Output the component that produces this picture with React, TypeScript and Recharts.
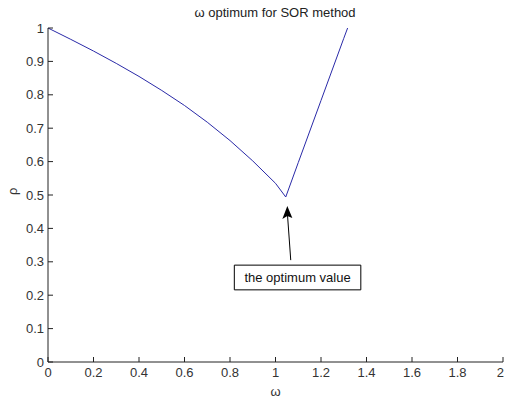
import React from 'react';
import { ComposedChart, Line, XAxis, YAxis, ReferenceArea, ReferenceLine, ReferenceDot } from 'recharts';

const omega = [0, 0.1, 0.2, 0.3, 0.4, 0.5, 0.6, 0.7, 0.8, 0.9, 1.0, 1.045, 1.1, 1.2, 1.3, 1.317];
const rho = [1.0, 0.966, 0.931, 0.894, 0.855, 0.813, 0.768, 0.718, 0.663, 0.602, 0.535, 0.494, 0.597, 0.783, 0.969, 1.0];
const xTicks = [0, 0.2, 0.4, 0.6, 0.8, 1, 1.2, 1.4, 1.6, 1.8, 2];
const yTicks = [0, 0.1, 0.2, 0.3, 0.4, 0.5, 0.6, 0.7, 0.8, 0.9, 1];
const annotationText = 'the optimum value';
const arrowTip = { x: 1.052, y: 0.467 };
const arrowTail = { x: 1.067, y: 0.305 };
const boxX = [0.819, 1.375];
const boxY = [0.216, 0.29];

const data = omega.map((w, i) => ({ w, rho: rho[i] }));

const FONT = '"Liberation Sans", Arial, sans-serif';
const AXIS = '#222';
const TXT = '#333';
const fmt = (v: number) => String(Number(v.toFixed(2)));

const BottomTick = (p: any) => {
  const last = p.payload.value === xTicks[xTicks.length - 1];
  return (
    <g>
      <line x1={p.x} y1={p.y} x2={p.x} y2={p.y - 5} stroke={AXIS} />
      <text
        x={last ? 504 : p.x} y={p.y + 15} textAnchor={last ? 'end' : 'middle'}
        fontSize={13} fill={TXT} fontFamily={FONT}
      >
        {fmt(p.payload.value)}
      </text>
    </g>
  );
};
const TopTick = (p: any) => <line x1={p.x} y1={p.y} x2={p.x} y2={p.y + 5} stroke={AXIS} />;
const LeftTick = (p: any) => (
  <g>
    <line x1={p.x} y1={p.y} x2={p.x + 5} y2={p.y} stroke={AXIS} />
    <text x={p.x - 4} y={p.y + 4.5} textAnchor="end" fontSize={13} fill={TXT} fontFamily={FONT}>
      {fmt(p.payload.value)}
    </text>
  </g>
);
const RightTick = (p: any) => <line x1={p.x} y1={p.y} x2={p.x - 5} y2={p.y} stroke={AXIS} />;

const ArrowHead = (p: any) => {
  const { cx, cy } = p;
  return <polygon points={`${cx},${cy} ${cx - 5},${cy + 13} ${cx},${cy + 10} ${cx + 5},${cy + 12}`} fill="#000" />;
};

export default function App() {
  return (
    <div style={{ position: 'absolute', left: 0, top: 0, width: 505, height: 399, background: '#fff' }}>
      <div
        style={{
          position: 'absolute', left: 0, top: 5, width: 550, textAlign: 'center',
          fontFamily: FONT, fontSize: 13, color: '#222', lineHeight: '16px',
        }}
      >
        ω optimum for SOR method
      </div>
      <ComposedChart width={505} height={399} data={data} margin={{ top: 28, right: 2, bottom: 0, left: 0 }}>
        <XAxis
          xAxisId="b" dataKey="w" type="number" domain={[0, 2]} ticks={xTicks} orientation="bottom"
          height={37} tickSize={0} tickMargin={0} tickLine={false} axisLine={{ stroke: AXIS }}
          tick={BottomTick} interval={0} allowDataOverflow
          label={{ value: 'ω', position: 'insideBottom', offset: 3, fontSize: 13, fill: TXT, fontFamily: FONT }}
        />
        <XAxis
          xAxisId="t" dataKey="w" type="number" domain={[0, 2]} ticks={xTicks} orientation="top"
          height={0} tickSize={0} tickMargin={0} tickLine={false} axisLine={{ stroke: AXIS }}
          tick={TopTick} interval={0} allowDataOverflow
        />
        <YAxis
          yAxisId="l" type="number" domain={[0, 1]} ticks={yTicks} orientation="left" width={48}
          tickSize={0} tickMargin={0} tickLine={false} axisLine={{ stroke: AXIS }}
          tick={LeftTick} interval={0} allowDataOverflow
          label={{ value: 'ρ', angle: -90, position: 'insideLeft', offset: 12, fontSize: 13, fill: TXT, fontFamily: FONT }}
        />
        <YAxis
          yAxisId="r" type="number" domain={[0, 1]} ticks={yTicks} orientation="right" width={0}
          tickSize={0} tickMargin={0} tickLine={false} axisLine={{ stroke: AXIS }}
          tick={RightTick} interval={0} allowDataOverflow
        />
        <Line
          xAxisId="b" yAxisId="l" dataKey="rho" type="linear" stroke="#2a2aa8" strokeWidth={1}
          dot={false} isAnimationActive={false}
        />
        <ReferenceLine
          xAxisId="b" yAxisId="l" segment={[arrowTail, { x: arrowTip.x, y: arrowTip.y - 0.02 }]}
          stroke="#000" strokeWidth={1}
        />
        <ReferenceDot
          xAxisId="b" yAxisId="l" x={arrowTip.x} y={arrowTip.y} r={6} shape={ArrowHead}
        />
        <ReferenceArea
          xAxisId="b" yAxisId="l" x1={boxX[0]} x2={boxX[1]} y1={boxY[0]} y2={boxY[1]}
          fill="#fff" fillOpacity={1} stroke="#000" strokeWidth={1}
          label={{ value: annotationText, position: 'center', fontSize: 13, fill: '#111', fontFamily: FONT }}
        />
      </ComposedChart>
    </div>
  );
}
